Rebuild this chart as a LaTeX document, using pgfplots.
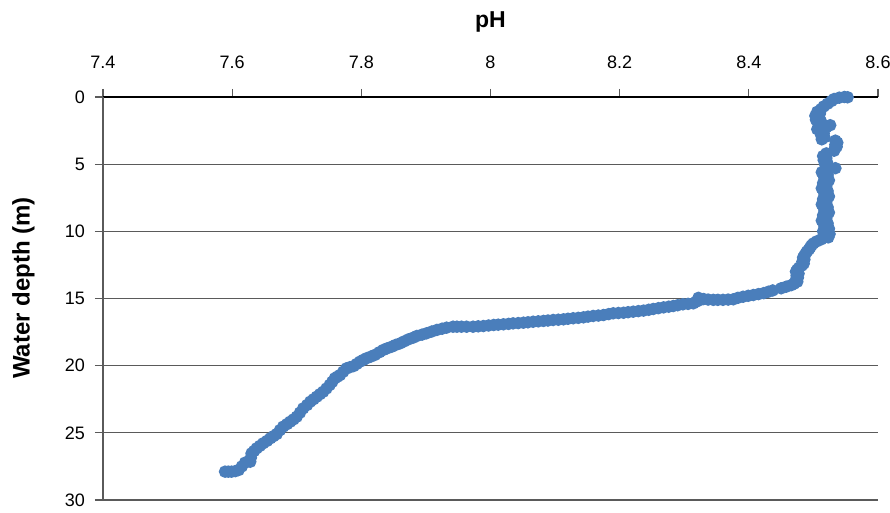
\documentclass[border=0pt]{standalone}
\usepackage{pgfplots}
\pgfplotsset{compat=1.18}
\usepackage{pgfplotstable}
\usepackage{fontspec}
\setmainfont{Liberation Sans}
\definecolor{ser}{HTML}{4A7EBB}
\definecolor{gridc}{HTML}{5A5A5A}

\pgfplotstableread{
ph depth
8.548 0.00
8.553 0.02
8.540 0.05
8.532 0.15
8.528 0.30
8.522 0.50
8.516 0.70
8.512 0.90
8.506 1.10
8.510 1.25
8.503 1.40
8.509 1.55
8.504 1.70
8.512 1.85
8.508 2.00
8.526 2.10
8.520 2.25
8.506 2.40
8.512 2.55
8.516 2.70
8.512 2.85
8.517 3.00
8.513 3.15
8.534 3.25
8.537 3.40
8.534 3.55
8.536 3.70
8.533 3.85
8.532 4.00
8.520 4.20
8.515 4.40
8.520 4.55
8.516 4.70
8.521 4.85
8.518 5.00
8.520 5.15
8.534 5.30
8.520 5.45
8.513 5.60
8.522 5.80
8.517 6.00
8.524 6.20
8.515 6.40
8.520 6.60
8.513 6.80
8.522 7.00
8.517 7.20
8.524 7.40
8.515 7.60
8.520 7.80
8.513 8.00
8.522 8.20
8.517 8.40
8.524 8.60
8.515 8.80
8.520 9.00
8.513 9.20
8.522 9.40
8.517 9.60
8.524 9.80
8.515 10.00
8.525 10.20
8.523 10.45
8.512 10.60
8.505 10.75
8.500 10.90
8.497 11.05
8.495 11.20
8.493 11.35
8.490 11.50
8.488 11.65
8.486 11.80
8.484 11.95
8.486 12.10
8.483 12.25
8.485 12.40
8.482 12.55
8.478 12.70
8.475 12.85
8.473 13.00
8.477 13.15
8.474 13.30
8.476 13.45
8.473 13.60
8.475 13.75
8.470 13.90
8.466 14.00
8.458 14.12
8.450 14.24
8.437 14.40
8.430 14.50
8.423 14.60
8.415 14.67
8.407 14.74
8.399 14.80
8.391 14.87
8.383 14.95
8.376 15.06
8.368 15.08
8.360 15.10
8.352 15.10
8.345 15.10
8.337 15.08
8.330 15.04
8.322 14.95
8.325 15.10
8.318 15.25
8.314 15.36
8.306 15.40
8.298 15.43
8.290 15.50
8.283 15.56
8.276 15.61
8.268 15.66
8.260 15.72
8.252 15.78
8.245 15.84
8.237 15.90
8.229 15.94
8.221 15.98
8.213 16.02
8.206 16.06
8.198 16.08
8.190 16.10
8.183 16.16
8.175 16.23
8.167 16.27
8.159 16.30
8.151 16.35
8.144 16.40
8.136 16.44
8.128 16.47
8.120 16.51
8.113 16.55
8.105 16.58
8.097 16.60
8.089 16.64
8.082 16.67
8.074 16.70
8.066 16.73
8.058 16.77
8.051 16.80
8.043 16.83
8.035 16.85
8.028 16.89
8.020 16.92
8.012 16.95
8.005 16.97
7.997 17.01
7.989 17.05
7.981 17.07
7.973 17.10
7.963 17.10
7.955 17.10
7.948 17.10
7.942 17.10
7.932 17.17
7.925 17.25
7.917 17.34
7.909 17.46
7.901 17.59
7.894 17.69
7.886 17.79
7.880 17.92
7.873 18.04
7.866 18.20
7.860 18.34
7.853 18.46
7.847 18.59
7.840 18.71
7.834 18.83
7.828 19.00
7.821 19.20
7.815 19.32
7.808 19.45
7.803 19.57
7.798 19.70
7.793 19.87
7.788 20.03
7.782 20.12
7.777 20.20
7.772 20.45
7.767 20.70
7.763 20.82
7.759 20.94
7.755 21.20
7.751 21.44
7.746 21.70
7.741 21.94
7.736 22.12
7.731 22.31
7.726 22.50
7.721 22.68
7.716 22.93
7.710 23.18
7.705 23.50
7.700 23.80
7.695 24.00
7.690 24.17
7.685 24.35
7.679 24.54
7.674 24.80
7.669 25.09
7.664 25.25
7.659 25.41
7.654 25.60
7.648 25.78
7.643 25.97
7.638 26.15
7.634 26.35
7.630 26.53
7.629 26.85
7.628 27.15
7.620 27.22
7.615 27.50
7.610 27.77
7.605 27.85
7.599 27.89
7.594 27.89
7.589 27.89
}\phdata

\begin{document}
\begin{tikzpicture}
\begin{axis}[
  at={(0,0)}, anchor=south west,
  scale only axis,
  width=387.5pt, height=201.5pt,
  xmin=7.4, xmax=8.6, ymin=0, ymax=30,
  y dir=reverse,
  axis x line*=top,
  axis y line*=left,
  x axis line style={black, line width=0.8pt},
  y axis line style={gridc, line width=0.6pt},
  tick align=outside,
  major tick length=4pt,
  xtick={7.4,7.6,7.8,8.0,8.2,8.4,8.6},
  xticklabels={7.4,7.6,7.8,8,8.2,8.4,8.6},
  ytick={0,5,10,15,20,25,30},
  every tick/.style={gridc, line width=0.6pt},
  ymajorgrids,
  major grid style={gridc, line width=0.6pt},
  /pgf/number format/assume math mode=true,
  tick label style={font=\fontsize{9}{10}\selectfont},
  xticklabel style={yshift=6.5pt},
  yticklabel style={xshift=-1.5pt},
  xlabel={pH},
  ylabel={Water depth (m)},
  xlabel style={font=\fontsize{11.5}{13}\selectfont\bfseries, at={(axis description cs:0.5,1)}, anchor=center, yshift=37.5pt},
  ylabel style={font=\fontsize{12}{14}\selectfont\bfseries, at={(axis description cs:0,0.526)}, anchor=center, yshift=39.75pt},
  clip=false,
]
\addplot[color=ser, line width=1.4pt, mark=*, mark size=2.4pt, mark options={fill=ser, draw=ser}] table[x=ph, y=depth] {\phdata};
\end{axis}
\pgfresetboundingbox
\path[use as bounding box] (-51.5pt,-6.5pt) rectangle (393.5pt,250pt);
\end{tikzpicture}
\end{document}
